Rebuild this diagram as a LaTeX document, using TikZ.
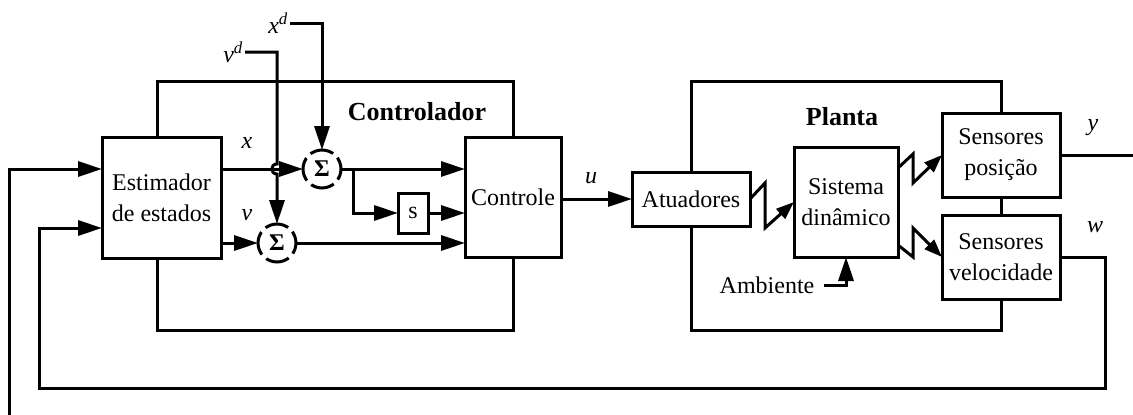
\documentclass[tikz,border=0pt]{standalone}
\usepackage{fontspec}
\setmainfont{Liberation Serif}
\usetikzlibrary{arrows.meta,calc}
\tikzset{
 blk/.style={draw, line width=3pt, inner sep=0pt, outer sep=0pt, align=center, font=\fontsize{24}{31}\selectfont},
 sumnode/.style={circle, draw, line width=3pt, minimum size=38pt, inner sep=0pt, outer sep=0pt, dash pattern=on 24pt off 6pt, dash phase=12pt, font=\fontsize{24}{28}\selectfont\bfseries},
 lbl/.style={inner sep=0pt, font=\fontsize{24}{28}\selectfont\itshape},
 plainlbl/.style={inner sep=0pt, font=\fontsize{24}{28}\selectfont},
 ttl/.style={inner sep=0pt, font=\fontsize{26}{30}\selectfont\bfseries},
 arr/.style={line width=3pt, -{Triangle[length=24pt,width=15pt]}},
 zz/.style={line width=3pt, -{Triangle[length=18pt,width=13pt]}},
 wire/.style={line width=3pt},
}
\begin{document}
\begin{tikzpicture}[x=1pt, y=-1pt]
\useasboundingbox (0,0) rectangle (1133,415);
% blocks
\node[blk, minimum width=119pt, minimum height=121pt] (est) at (161.5,197.5) {Estimador\\de estados};
\node[blk, minimum width=96pt, minimum height=120pt] (ctl) at (513,197) {Controle};
\node[blk, minimum width=30pt, minimum height=40pt] (s) at (413,213) {s};
\node[sumnode] (sig1) at (322,169) {Σ};
\node[sumnode] (sig2) at (277,243) {Σ};
\node[blk, minimum width=118pt, minimum height=54pt] (atu) at (691,199) {Atuadores};
\node[blk, minimum width=104pt, minimum height=110pt] (sis) at (846,202) {Sistema\\dinâmico};
\node[blk, minimum width=118pt, minimum height=84pt] (spos) at (1001,155) {Sensores\\posição};
\node[blk, minimum width=118pt, minimum height=84pt] (svel) at (1001,257) {Sensores\\velocidade};
% labels
\node[ttl] (tctl) at (417,112) {Controlador};
\node[ttl] (tpla) at (842,117) {Planta};
\node[lbl] (lx) at (247,143) {x};
\node[lbl] (lv) at (247,215) {v};
\node[lbl] (lu) at (591,178) {u};
\node[lbl] (ly) at (1093,128) {y};
\node[lbl] (lw) at (1095,227) {w};
\node[lbl, anchor=east] (xd) at (288,23) {x\textsuperscript{d}};
\node[lbl, anchor=east] (vd) at (243,52) {v\textsuperscript{d}};
\node[plainlbl] (amb) at (767,285) {Ambiente};
% frames
\draw[wire] ([xshift=-4.5pt]est.north) -- ++(0,-56) -| (ctl.north);
\draw[wire] ([xshift=-4.5pt]est.south) -- ++(0,72) -| (ctl.south);
\draw[wire] (atu.north) -- ++(0,-91) -| (spos.north);
\draw[wire] (svel.south) -- ++(0,31) -| (atu.south);
\draw[wire] (spos.south) -- (svel.north);
% controller wiring
\draw[arr] ([xshift=2pt]xd.east) -| (sig1.north);
\coordinate (jt) at (277,164);
\coordinate (jb) at (277,174);
\draw[arr] ([xshift=2pt]vd.east) -| (jt) .. controls +(-7,0) and +(-7,0) .. (jb) -- (sig2.north);
\draw[arr] (est.east |- sig1) -- (sig1.west);
\draw[arr] (sig1.east) -- (sig1 -| ctl.west);
\coordinate (br) at (353,169);
\draw[arr] (br) |- (s.west);
\draw[arr] (s.east) -- (s -| ctl.west);
\draw[arr] (est.east |- sig2) -- (sig2.west);
\draw[arr] (sig2.east) -- (sig2 -| ctl.west);
\draw[arr] (ctl.east |- atu) -- (atu.west);
% plant wiring
\draw[zz] (atu.east) -- ++(15,-16) -- ++(0,45) -- (sis.west);
\draw[zz] ([yshift=34pt]sis.east) -- ++(15,-14) -- ++(0,29) -- (spos.west);
\draw[zz] ([yshift=-43pt]sis.east) -- ++(15,12) -- ++(0,-29) -- (svel.west);
\draw[arr] ([xshift=9pt]amb.east) -| (sis.south);
% outputs and feedback
\coordinate (ytip) at (1133,155);
\draw[wire] (spos.east) -- (ytip);
\coordinate (fb1) at (1105,388);
\coordinate (fb2) at (39,228);
\draw[arr] (svel.east) -| (fb1) -| (fb2) -- (est.west |- fb2);
\coordinate (lb) at (9,415);
\draw[arr] (lb) |- (est.west |- sig1);
\end{tikzpicture}
\end{document}
